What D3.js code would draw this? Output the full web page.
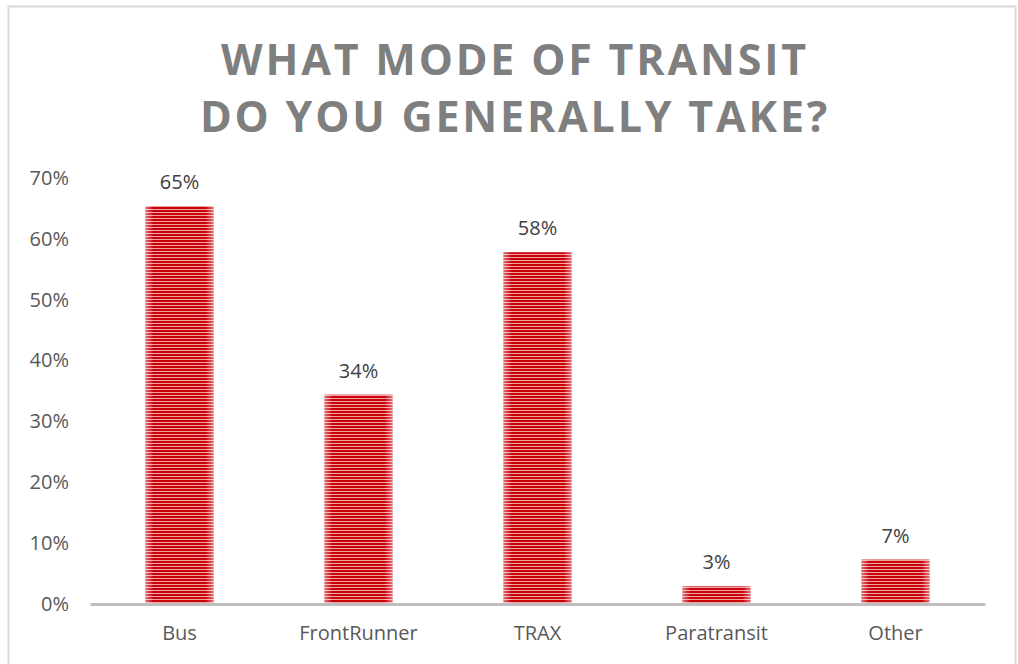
<!DOCTYPE html>
<html>
<head>
<script src="https://d3js.org/d3.v7.min.js"></script>
<style>
  body { margin: 0; background: #fff; }
  text { font-family: "Open Sans", "Liberation Sans", sans-serif; }
</style>
</head>
<body>
<svg id="chart" width="1018" height="664"></svg>
<script>
// survey answers (percent)
var categories = ["Bus", "FrontRunner", "TRAX", "Paratransit", "Other"];
var shares = [65.4, 34.4, 57.8, 2.9, 7.3];
var yTicks = [0, 10, 20, 30, 40, 50, 60, 70];
var titleLines = ["WHAT MODE OF TRANSIT", "DO YOU GENERALLY TAKE?"];

var svg = d3.select("#chart");

// outer frame
svg.append("rect")
   .attr("x", 8.5).attr("y", 6.5)
   .attr("width", 1007).attr("height", 670)
   .attr("fill", "none").attr("stroke", "#d9d9d9").attr("stroke-width", 2);

var defs = svg.append("defs");
var pat = defs.append("pattern")
   .attr("id", "stripes")
   .attr("patternUnits", "userSpaceOnUse")
   .attr("width", 10).attr("height", 3);
pat.append("rect").attr("width", 10).attr("height", 3).attr("fill", "#f3a3a3");
pat.append("rect").attr("width", 10).attr("height", 2).attr("fill", "#c8000a");

// soft glow at the bar edges
var glow = defs.append("linearGradient").attr("id", "edge");
glow.append("stop").attr("offset", "0%").attr("stop-color", "#fff").attr("stop-opacity", 0.45);
glow.append("stop").attr("offset", "12%").attr("stop-color", "#fff").attr("stop-opacity", 0);
glow.append("stop").attr("offset", "88%").attr("stop-color", "#fff").attr("stop-opacity", 0);
glow.append("stop").attr("offset", "100%").attr("stop-color", "#fff").attr("stop-opacity", 0.45);

var x = d3.scaleBand().domain(categories).range([90, 985]).paddingInner(0.62).paddingOuter(0.31);
var y = d3.scaleLinear().domain([0, 70]).range([604, 178]);

// title
svg.append("g").selectAll("text")
   .data(titleLines)
   .enter().append("text")
   .attr("x", 515)
   .attr("y", function(d, i) { return 75 + i * 57; })
   .attr("text-anchor", "middle")
   .attr("fill", "#7f7f7f")
   .attr("font-weight", "bold")
   .attr("font-size", 43)
   .attr("letter-spacing", 2.8)
   .text(function(d) { return d; });

// y axis labels (no line)
var yAxis = d3.axisLeft(y).tickValues(yTicks).tickSize(0).tickPadding(0)
   .tickFormat(function(d) { return d + "%"; });
var ga = svg.append("g").attr("transform", "translate(69,0)").call(yAxis);
ga.select(".domain").remove();
ga.selectAll("text").attr("font-size", 20).attr("fill", "#595959")
   .style("font-family", "'Open Sans', sans-serif");

// bars
var bars = svg.append("g");
bars.selectAll("rect.bar")
   .data(shares)
   .enter().append("rect")
   .attr("class", "bar")
   .attr("x", function(d, i) { return x(categories[i]); })
   .attr("y", function(d) { return y(d); })
   .attr("width", x.bandwidth())
   .attr("height", function(d) { return y(0) - y(d); })
   .attr("fill", "url(#stripes)");
bars.selectAll("rect.glow")
   .data(shares)
   .enter().append("rect")
   .attr("class", "glow")
   .attr("x", function(d, i) { return x(categories[i]); })
   .attr("y", function(d) { return y(d); })
   .attr("width", x.bandwidth())
   .attr("height", function(d) { return y(0) - y(d); })
   .attr("fill", "url(#edge)");

// value labels
svg.append("g").selectAll("text")
   .data(shares)
   .enter().append("text")
   .attr("x", function(d, i) { return x(categories[i]) + x.bandwidth() / 2; })
   .attr("y", function(d) { return y(d) - 17; })
   .attr("text-anchor", "middle")
   .attr("font-size", 20)
   .attr("fill", "#404040")
   .text(function(d) { return Math.round(d) + "%"; });

// baseline + category labels
var xAxis = d3.axisBottom(x).tickSize(0).tickPadding(22);
var gx = svg.append("g").attr("transform", "translate(0,604)").call(xAxis);
gx.select(".domain").attr("stroke", "#bfbfbf").attr("stroke-width", 3);
gx.selectAll("text").attr("font-size", 20).attr("fill", "#595959")
   .style("font-family", "'Open Sans', sans-serif");
</script>
</body>
</html>
